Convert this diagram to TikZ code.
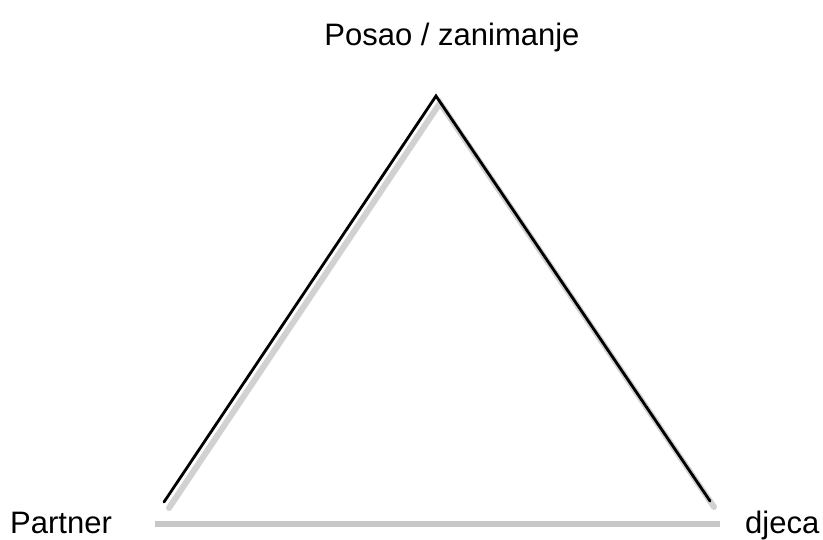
\documentclass[tikz,border=0pt]{standalone}
\usepackage{fontspec}
\setmainfont{Liberation Sans}
\begin{document}
\begin{tikzpicture}[x=1pt,y=-1pt,
  lbl/.style={font=\fontsize{31}{37}\selectfont, inner sep=0pt},
  side/.style={line width=2.8pt, black, line cap=round},
  sideshadow/.style={line width=6pt, black!18, line cap=round},
  basebar/.style={line width=6pt, black!22}]
\useasboundingbox (0,0) rectangle (823,539);
\coordinate (A) at (436,96);
\coordinate (L) at (164,502);
\coordinate (R) at (710,501);
\coordinate (As) at (440,103);
\coordinate (Ls) at (169,508);
\coordinate (Rs) at (714,507);
\coordinate (B1) at (155,524);
\coordinate (B2) at (720,524);
\draw[sideshadow] (Ls) -- (As) -- (Rs);
\draw[side] (L) -- (A) -- (R);
\draw[basebar] (B1) -- (B2);
\node[lbl, anchor=base] (top) at (452,45) {Posao / zanimanje};
\node[lbl, anchor=base west] (left) at (10,533) {Partner};
\node[lbl, anchor=base west] (right) at (745,533) {djeca};
\end{tikzpicture}
\end{document}
